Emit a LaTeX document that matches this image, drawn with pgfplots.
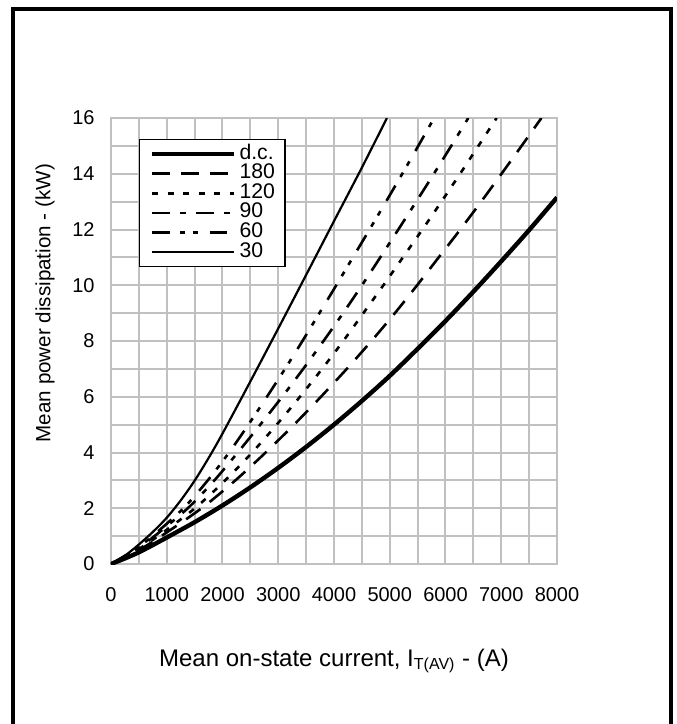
\documentclass[border=0pt]{standalone}
\usepackage{fontspec}
\setmainfont{Liberation Sans}
\usepackage{pgfplots}
\pgfplotsset{compat=1.18}
\definecolor{gridgray}{RGB}{192,192,192}
\begin{document}
\begin{tikzpicture}
\useasboundingbox (-55.5pt,-80pt) rectangle (282.5pt,282pt);
\draw[line width=2pt] (-49pt,-80pt) -- (-49pt,277.5pt) -- (280pt,277.5pt) -- (280pt,-80pt);
\begin{axis}[
  at={(0,0)}, anchor=south west,
  scale only axis, width=223pt, height=223pt,
  xmin=0, xmax=8000, ymin=0, ymax=16,
  xtick={0,1000,...,8000}, ytick={0,2,...,16},
  minor xtick={500,1500,...,7500}, minor ytick={1,3,...,15},
  grid=both,
  major grid style={line width=1pt, color=gridgray},
  minor grid style={line width=1pt, color=gridgray},
  axis line style={line width=1pt, color=gridgray},
  major tick length=0pt, minor tick length=0pt,
  scaled x ticks=false,
  /pgf/number format/assume math mode=true,
  /pgf/number format/1000 sep={},
  tick label style={font=\fontsize{10}{12}\selectfont},
  xticklabel style={yshift=-8.2pt},
  yticklabel style={xshift=-4.7pt},
  xlabel={Mean on-state current, I\textsubscript{T(AV)} - (A)},
  ylabel={Mean power dissipation - (kW)},
  x label style={at={(axis description cs:0.5,-0.217)}, anchor=center, font=\fontsize{12}{14}\selectfont},
  y label style={at={(axis description cs:-0.148,0.585)}, anchor=center, font=\fontsize{10.3}{12}\selectfont},
  legend style={
    at={(0.0628,0.953)}, anchor=north west,
    draw=black, line width=0.7pt, fill=white,
    inner xsep=5pt, inner ysep=2.3pt,
    font=\fontsize{10.6}{10.6}\selectfont,
    row sep=0pt,
    nodes={inner sep=0pt, text height=7.4pt, text depth=2.4pt},
    /tikz/every odd column/.append style={column sep=1.7pt},
  },
  legend cell align=left,
  legend image code/.code={\draw[#1] (0pt,0pt) -- (41pt,0pt);},
]
\addplot[black, line width=2.2pt, smooth] coordinates {
(0,0) (250,0.2) (500,0.42) (750,0.68) (1000,0.95) (1500,1.5) (2000,2.1) (2500,2.75) (3000,3.45) (3500,4.2) (4000,5.0) (4500,5.85) (5000,6.75) (5500,7.72) (6000,8.72) (6500,9.77) (7000,10.86) (7500,11.98) (8000,13.15)};
\addlegendentry{d.c.}
\addplot[black, line width=1.3pt, smooth, dash pattern=on 8.8pt off 5.8pt] coordinates {
(0,0) (499,0.5) (901,1) (1624,2) (2231,3) (2774,4) (3284,5) (3766,6) (4229,7) (4671,8) (5092,9) (5491,10) (5878,11) (6266,12) (6640,13) (7005,14) (7365,15) (7721,16)};
\addlegendentry{180}
\addplot[black, line width=1.3pt, smooth, dash pattern=on 3pt off 4.8pt] coordinates {
(0,0) (468,0.5) (843,1) (1505,2) (2048,3) (2532,4) (2973,5) (3389,6) (3787,7) (4166,8) (4527,9) (4886,10) (5236,11) (5586,12) (5927,13) (6262,14) (6591,15) (6917,16)};
\addlegendentry{120}
\addplot[black, line width=1.3pt, smooth, dash pattern=on 8.8pt off 5.2pt on 2.8pt off 5.2pt] coordinates {
(0,0) (435,0.5) (780,1) (1377,2) (1854,3) (2274,4) (2678,5) (3071,6) (3448,7) (3812,8) (4163,9) (4502,10) (4830,11) (5154,12) (5475,13) (5792,14) (6103,15) (6409,16)};
\addlegendentry{90}
\addplot[black, line width=1.3pt, smooth, dash pattern=on 8.8pt off 5pt on 2.5pt off 4pt on 2.5pt off 6pt] coordinates {
(0,0) (415,0.5) (743,1) (1300,2) (1736,3) (2118,4) (2465,5) (2797,6) (3121,7) (3434,8) (3738,9) (4041,10) (4339,11) (4638,12) (4933,13) (5225,14) (5512,15) (5796,16)};
\addlegendentry{60}
\addplot[black, line width=1.1pt, smooth] coordinates {
(0,0) (250,0.3) (500,0.7) (750,1.15) (1000,1.66) (1250,2.28) (1500,2.99) (1750,3.8) (2000,4.68) (2500,6.55) (3000,8.45) (3500,10.37) (4000,12.3) (4500,14.22) (4950,16)};
\addlegendentry{30}
\end{axis}
\end{tikzpicture}
\end{document}
